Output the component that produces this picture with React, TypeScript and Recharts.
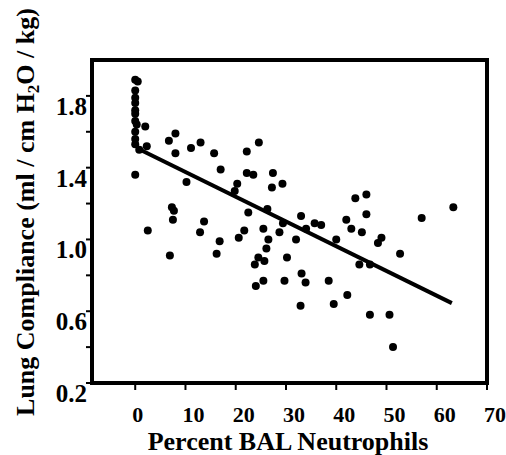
import React from "react";
import { ScatterChart, Scatter, XAxis, YAxis, ReferenceArea, ReferenceLine } from "recharts";

// plot frame (px) — margins below put the box here
const W = 506;
const H = 455;
const PLOT_LEFT = 92;
const PLOT_TOP = 60;
const PLOT_RIGHT = 487;
const PLOT_BOTTOM = 383;

const SERIF = '"Liberation Serif", "Times New Roman", serif';

const xDomain = [-8.6, 70];
const yDomain = [0.2, 2.0];
const xTicks = [0, 10, 20, 30, 40, 50, 60, 70];
const yTicks = [0.2, 0.4, 0.6, 0.8, 1.0, 1.2, 1.4, 1.6, 1.8];
const yTickLabels = ["0.2", "", "0.6", "", "1.0", "", "1.4", "", "1.8"];

// percent BAL neutrophils
const neutrophils = [
  0, 0.5, 0, 0, 0, 0, 0, 0, 0.3, 0, 0, 0, 0.8, 2, 2.3, 0,
  2.5, 6.9, 6.7, 8, 8, 7.3, 7.7, 7.5, 10.2, 11.1, 13, 12.9, 13.7, 15.7, 17, 16.8,
  16.2, 20.3, 19.8, 22.2, 22.2, 23.5, 24.6, 22.5, 20.6, 21.7, 23.8, 24.5, 25.7, 24,
  25.5, 25.5, 26.1, 26.5, 26.3, 27.4, 27.2, 29.3, 28.7, 29.4, 30.2, 29.7, 32, 33,
  33.1, 33.9, 32.9, 34, 35.7, 37, 38.5, 40, 39.5, 42, 43, 42.2, 43.8, 46, 46,
  45.1, 44.6, 46.7, 46.7, 48.3, 49, 50.6, 51.3, 52.7, 57, 63.3,
];

// lung compliance (ml / cm H2O / kg)
const compliance = [
  1.89, 1.88, 1.83, 1.79, 1.76, 1.72, 1.70, 1.66, 1.64, 1.60, 1.56, 1.53, 1.50, 1.63, 1.52, 1.36,
  1.05, 0.91, 1.55, 1.59, 1.48, 1.18, 1.16, 1.11, 1.32, 1.51, 1.54, 1.04, 1.10, 1.48, 1.39, 0.99,
  0.92, 1.31, 1.27, 1.49, 1.37, 1.36, 1.54, 1.15, 1.01, 1.05, 0.86, 0.90, 0.88, 0.74,
  0.77, 1.06, 0.95, 1.00, 1.17, 1.37, 1.29, 1.31, 1.04, 1.09, 0.90, 0.77, 1.00, 1.13,
  0.81, 0.76, 0.63, 1.06, 1.09, 1.08, 0.77, 1.00, 0.64, 1.11, 1.06, 0.69, 1.23, 1.25, 1.14,
  1.04, 0.86, 0.86, 0.58, 0.98, 1.01, 0.58, 0.40, 0.92, 1.12, 1.18,
];

// regression line end points
const fitX = [1, 63];
const fitY = [1.5, 0.645];

const points = neutrophils.map((x, i) => ({ x, y: compliance[i] }));

function Dot(props: any) {
  return <circle cx={props.cx} cy={props.cy} r={4} fill="#000" />;
}

function XTick(props: any) {
  const { x, payload } = props;
  return (
    <g>
      <line x1={x} x2={x} y1={PLOT_BOTTOM} y2={PLOT_BOTTOM + 7} stroke="#000" strokeWidth={2} />
      <text x={x - 3} y={PLOT_BOTTOM + 39} textAnchor="start" fontFamily={SERIF} fontWeight="bold" fontSize={22} fill="#000">
        {payload.value}
      </text>
    </g>
  );
}

function YTick(props: any) {
  const { y, index } = props;
  const label = yTickLabels[index];
  return (
    <g>
      <line x1={PLOT_LEFT - 6} x2={PLOT_LEFT} y1={y} y2={y} stroke="#000" strokeWidth={2} />
      {label ? (
        <text x={87} y={y + 19} textAnchor="end" fontFamily={SERIF} fontWeight="bold" fontSize={25} fill="#000">
          {label}
        </text>
      ) : null}
    </g>
  );
}

function XTitle() {
  return (
    <text x={288} y={450} textAnchor="middle" fontFamily={SERIF} fontWeight="bold" fontSize={26} fill="#000">
      Percent BAL Neutrophils
    </text>
  );
}

function YTitle() {
  return (
    <text transform="translate(34, 212) rotate(-90)" textAnchor="middle" fontFamily={SERIF} fontWeight="bold" fontSize={26} fill="#000">
      Lung Compliance (ml / cm H<tspan dy={5} fontSize={17}>2</tspan><tspan dy={-5}>O / kg)</tspan>
    </text>
  );
}

export default function App() {
  return (
    <div style={{ position: "absolute", left: 0, top: 0, width: W, height: H, background: "#fff" }}>
      <ScatterChart
        width={W}
        height={H}
        margin={{ top: PLOT_TOP, right: W - PLOT_RIGHT, left: 0, bottom: 0 }}
      >
        <XAxis
          type="number"
          dataKey="x"
          domain={xDomain}
          ticks={xTicks}
          interval={0}
          allowDataOverflow
          height={H - PLOT_BOTTOM}
          axisLine={false}
          tickLine={false}
          tick={XTick}
          label={{ content: XTitle }}
        />
        <YAxis
          type="number"
          dataKey="y"
          domain={yDomain}
          ticks={yTicks}
          interval={0}
          allowDataOverflow
          width={PLOT_LEFT}
          axisLine={false}
          tickLine={false}
          tick={YTick}
          label={{ content: YTitle }}
        />
        <ReferenceLine
          segment={[{ x: fitX[0], y: fitY[0] }, { x: fitX[1], y: fitY[1] }]}
          stroke="#000"
          strokeWidth={4}
        />
        <Scatter data={points} shape={Dot} isAnimationActive={false} />
        <ReferenceArea
          x1={xDomain[0]}
          x2={xDomain[1]}
          y1={yDomain[0]}
          y2={yDomain[1]}
          fill="none"
          stroke="#000"
          strokeWidth={4}
        />
      </ScatterChart>
    </div>
  );
}
